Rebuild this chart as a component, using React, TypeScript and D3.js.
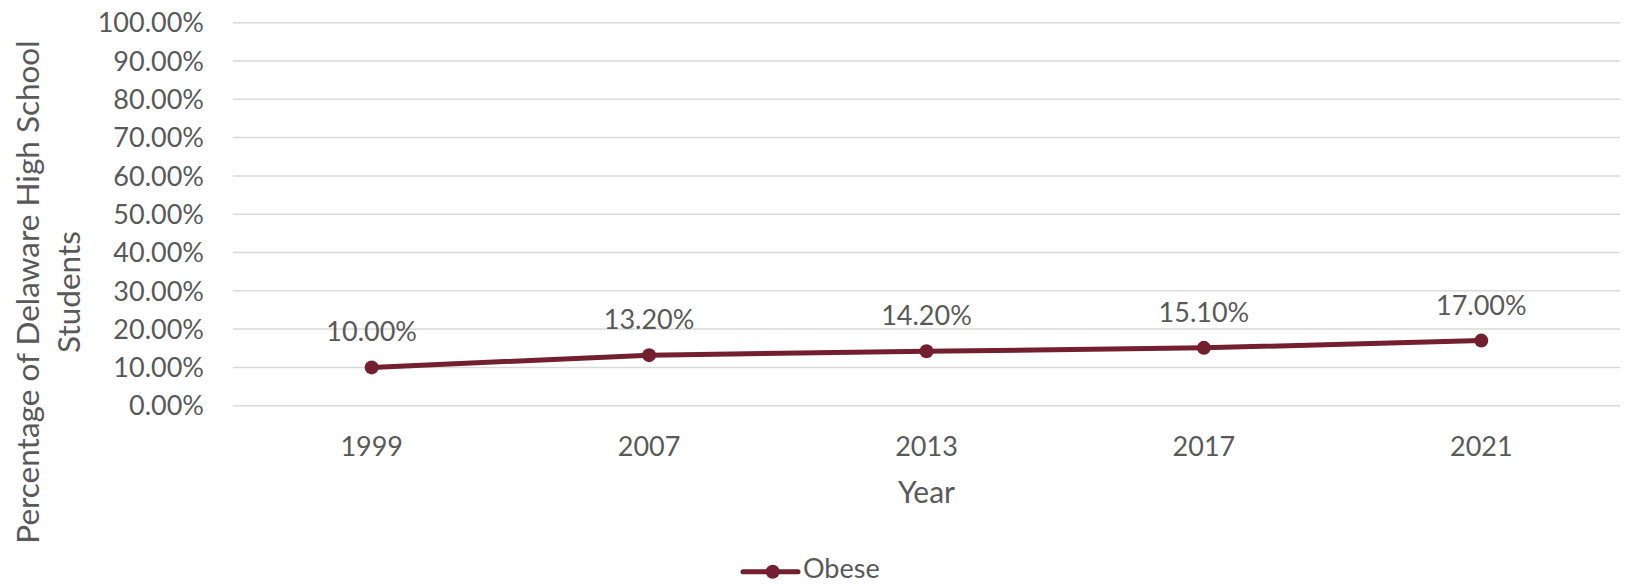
import React from 'react'
import * as d3 from 'd3'

// values
const years = ['1999', '2007', '2013', '2017', '2021']
const obese = [0.1, 0.132, 0.142, 0.151, 0.17]
const yTicks = [0, 0.1, 0.2, 0.3, 0.4, 0.5, 0.6, 0.7, 0.8, 0.9, 1]
const seriesName = 'Obese'
const xTitle = 'Year'
const yTitleLines = ['Percentage of Delaware High School', 'Students']

const W = 1625
const H = 584
const margin = { top: 22.7, right: 5, bottom: 178.3, left: 233 }
const lineColor = '#731f2f'
const textColor = '#595959'
const gridColor = '#d9d9d9'
const font = 'Lato, "Open Sans", sans-serif'

export default function App() {
  const x = d3.scaleBand<string>()
    .domain(years)
    .range([margin.left, W - margin.right])
  const y = d3.scaleLinear()
    .domain([0, 1])
    .range([H - margin.bottom, margin.top])

  const fmt = d3.format('.2%')
  const cx = (d: string) => (x(d) as number) + x.bandwidth() / 2

  const line = d3.line<number>()
    .x((d, i) => cx(years[i]))
    .y(d => y(d))

  const yMid = H / 2

  return (
    <svg width={W} height={H} style={{ position: 'absolute', left: 0, top: 0, background: '#fff' }}
      fontFamily={font} fill={textColor}>
      {/* grid */}
      <g stroke={gridColor} strokeWidth={1.5}>
        {yTicks.map(t => (
          <line key={t} x1={margin.left} x2={W - margin.right} y1={y(t)} y2={y(t)} />
        ))}
      </g>
      {/* y tick labels */}
      <g fontSize={27} textAnchor="end">
        {yTicks.map(t => (
          <text key={t} x={204} y={y(t)} dy="0.36em">{fmt(t)}</text>
        ))}
      </g>
      {/* x tick labels */}
      <g fontSize={27} textAnchor="middle">
        {years.map(yr => (
          <text key={yr} x={cx(yr)} y={455.5}>{yr}</text>
        ))}
      </g>
      {/* series */}
      <path d={line(obese) || ''} fill="none" stroke={lineColor} strokeWidth={5} strokeLinejoin="round" />
      <g fill={lineColor}>
        {obese.map((v, i) => (
          <circle key={i} cx={cx(years[i])} cy={y(v)} r={7} />
        ))}
      </g>
      {/* data labels */}
      <g fontSize={27} textAnchor="middle">
        {obese.map((v, i) => (
          <text key={i} x={cx(years[i])} y={y(v) - 26}>{fmt(v)}</text>
        ))}
      </g>
      {/* axis titles */}
      <text x={(margin.left + W - margin.right) / 2} y={503} fontSize={30} textAnchor="middle">{xTitle}</text>
      <g transform={`translate(0,${yMid}) rotate(-90)`} fontSize={31.5} textAnchor="middle">
        <text x={0} y={39}>{yTitleLines[0]}</text>
        <text x={0} y={80}>{yTitleLines[1]}</text>
      </g>
      {/* legend */}
      <g>
        <line x1={743} x2={798} y1={571.7} y2={571.7} stroke={lineColor} strokeWidth={5} strokeLinecap="round" />
        <circle cx={772.7} cy={571.7} r={7} fill={lineColor} />
        <text x={803} y={578} fontSize={27}>{seriesName}</text>
      </g>
    </svg>
  )
}
